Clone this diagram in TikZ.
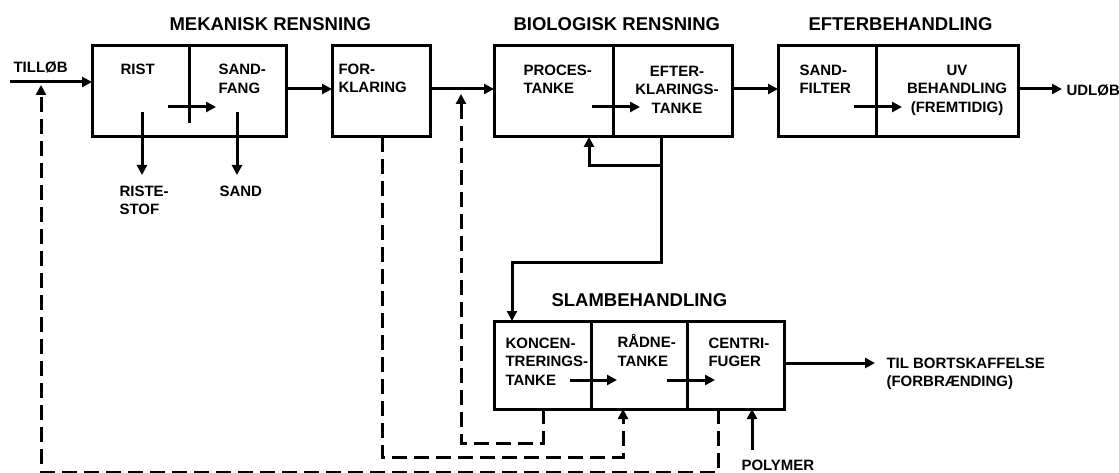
\documentclass[tikz,border=0pt]{standalone}
\usepackage{fontspec}
\setmainfont{Liberation Sans}
\usetikzlibrary{arrows.meta}

\begin{document}
\begin{tikzpicture}[x=1pt, y=-1pt, line width=3pt,
  >={Triangle[length=10pt,width=10pt]},
  box/.style={draw, rectangle, inner sep=0pt, outer sep=0pt, anchor=north west},
  lbl/.style={font=\fontsize{15}{18.5}\selectfont\bfseries, inner sep=0pt, align=left, anchor=north west},
  ttl/.style={font=\fontsize{18.5}{20}\selectfont\bfseries, inner sep=0pt, anchor=west},
  slud/.style={dash pattern=on 15pt off 7pt}]
\useasboundingbox (0,0) rectangle (1119,473);

% ===== titles =====
\node[ttl] (tmek) at (168,24) {MEKANISK RENSNING};
\node[ttl] (tbio) at (512,24) {BIOLOGISK RENSNING};
\node[ttl] (teft) at (807,24) {EFTERBEHANDLING};
\node[ttl] (tslam) at (550,300) {SLAMBEHANDLING};

% ===== boxes, top row =====
\node[box, minimum width=194pt, minimum height=91pt] (mek) at (92,46) {};
\draw (189,46) -- (189,123); % rist / sandfang split
\node[box, minimum width=98pt, minimum height=91pt] (fork) at (332,46) {};
\node[box, minimum width=119pt, minimum height=91pt] (proc) at (494,46) {};
\node[box, minimum width=119pt, minimum height=91pt] (eftk) at (613,46) {};
\node[box, minimum width=98pt, minimum height=91pt] (sfil) at (778,46) {};
\node[box, minimum width=142pt, minimum height=91pt] (uvb) at (876,46) {};

% ===== boxes, sludge line =====
\node[box, minimum width=97pt, minimum height=88pt] (konc) at (494,321) {};
\node[box, minimum width=96pt, minimum height=88pt] (raad) at (591,321) {};
\node[box, minimum width=97pt, minimum height=88pt] (cent) at (687,321) {};

% ===== texts =====
\node[lbl] (tillob) at (12,60.6) {TILLØB};
\node[lbl] (rist) at (119,63) {RIST};
\node[lbl] (sandf) at (217,63) {SAND-\\FANG};
\node[lbl] (riststof) at (118,184.5) {RISTE-\\STOF};
\node[lbl] (sand) at (218,184.5) {SAND};
\node[lbl] (forkl) at (337,62.5) {FOR-\\KLARING};
\node[lbl] (proct) at (522,63.5) {PROCES-\\TANKE};
\node[lbl, align=center, anchor=north] (eftkt) at (677,64.5) {EFTER-\\KLARINGS-\\TANKE};
\node[lbl] (sfilt) at (798,63.5) {SAND-\\FILTER};
\node[lbl, align=center, anchor=north] (uvt) at (957,63.5) {UV\\BEHANDLING\\(FREMTIDIG)};
\node[lbl, anchor=west] (udlt) at (1065,90) {UDLØB};
\node[lbl] (konct) at (504,336.5) {KONCEN-\\TRERINGS-\\TANKE};
\node[lbl] (raadt) at (616,333) {RÅDNE-\\TANKE};
\node[lbl] (centt) at (707,336.5) {CENTRI-\\FUGER};
\node[lbl] (bortt) at (885,356.5) {TIL BORTSKAFFELSE\\(FORBRÆNDING)};
\node[lbl, anchor=west] (polyt) at (740,465.5) {POLYMER};

% ===== main flow =====
\coordinate (tin) at (10,82);
\coordinate (lvl) at (0,89);
\coordinate (udl) at (1062,89);
\draw[->] (tin) -- (tin -| mek.west);
\draw[->] (mek.east |- lvl) -- (fork.west |- lvl);
\draw[->] (fork.east |- lvl) -- (proc.west |- lvl);
\draw[->] (eftk.east |- lvl) -- (sfil.west |- lvl);
\draw[->] (uvb.east |- lvl) -- (udl);

% arrows inside the boxes
\draw[->] (168,107) -- (216,107);
\draw[->] (592,107) -- (640,107);
\draw[->] (854,107) -- (902,107);
\draw[->] (570,380) -- (617,380);
\draw[->] (667,380) -- (715,380);

% screenings and grit out
\draw[->] (142,112) -- (142,175);
\draw[->] (237,112) -- (237,175);

% return sludge and surplus sludge
\draw[->] (661,137) -- (661,166) -- (589,166) -- (589,137);
\draw[->] (661,166) -- (661,262) -- (512,262) -- (512,321);

% sludge out, polymer in
\coordinate (bort) at (875,363);
\draw[->] (cent.east |- bort) -- (bort);
\draw[->] (752,450) -- (752,409);

% ===== dashed reject water =====
\draw[slud,->] (543,409) -- (543,443) -- (461,443) -- (461,94);
\draw[slud,->] (382,137) -- (382,457) -- (623,457) -- (623,409);
\draw[slud,->] (718,409) -- (718,472) -- (41,472) -- (41,85);
\end{tikzpicture}
\end{document}
